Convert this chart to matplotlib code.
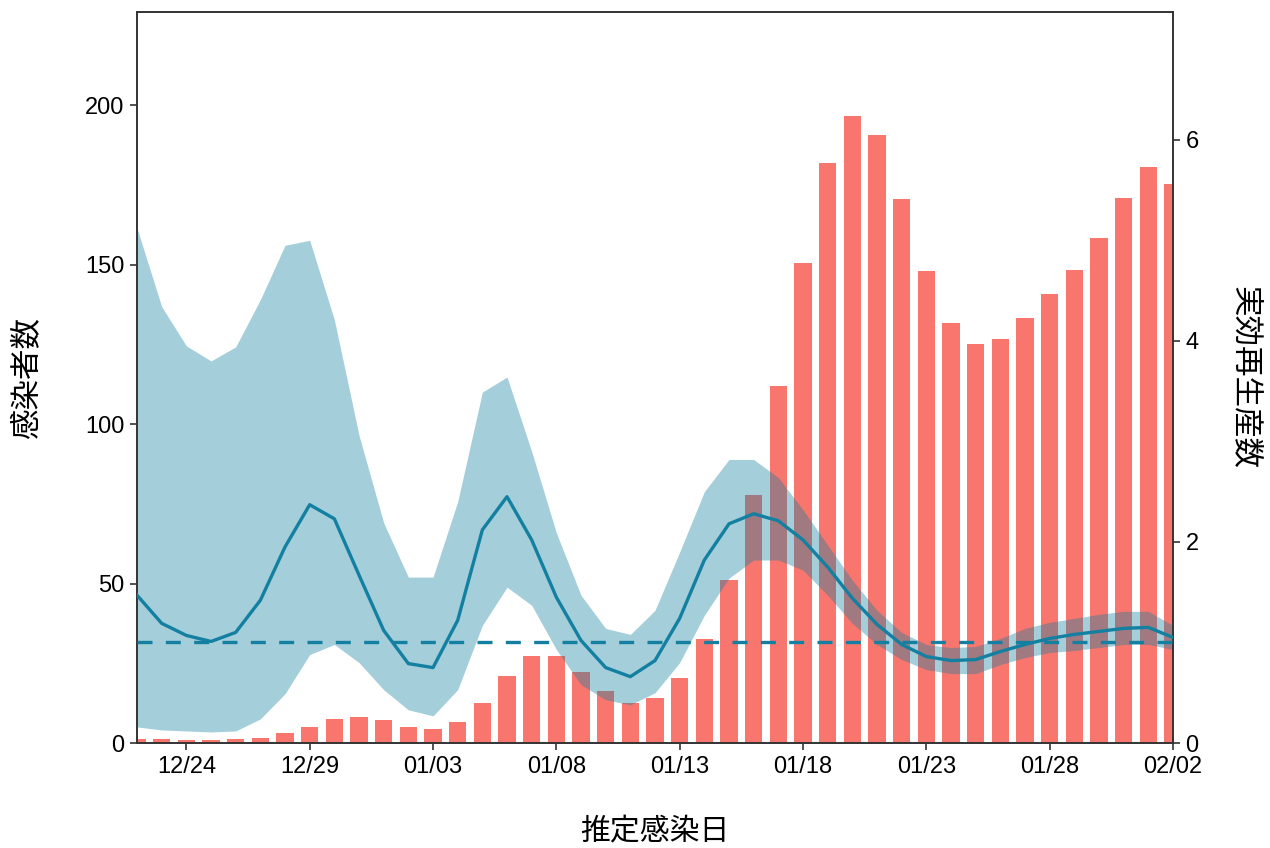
import matplotlib
matplotlib.use("Agg")
import matplotlib.pyplot as plt
import matplotlib.dates as mdates
import numpy as np
import pandas as pd

plt.rcParams['font.family'] = ['Liberation Sans', 'Noto Sans CJK JP', 'DejaVu Sans']

# Daily estimated infections, 2020-12-22 .. 2021-02-02
dates = pd.date_range("2020-12-22", "2021-02-02", freq="D")
infections = [1.3, 1.3, 1.0, 1.0, 1.3, 1.7, 3.1, 5.1, 7.4, 8.1,
              7.1, 4.9, 4.4, 6.7, 12.5, 21.0, 27.3, 27.3, 22.3, 16.3,
              12.5, 14.1, 20.4, 32.6, 51.0, 77.7, 112.0, 150.5, 182.0, 196.6,
              190.6, 170.5, 148.0, 131.7, 125.0, 126.6, 133.2, 140.8, 148.3, 158.3,
              170.8, 180.6, 175.2]

# Effective reproduction number: median and credible interval
rt_median = [1.47, 1.19, 1.07, 1.01, 1.10, 1.42, 1.95, 2.37, 2.23, 1.67,
             1.12, 0.79, 0.75, 1.22, 2.12, 2.45, 2.02, 1.45, 1.02, 0.75,
             0.66, 0.82, 1.24, 1.82, 2.18, 2.28, 2.21, 2.02, 1.75, 1.44,
             1.18, 0.98, 0.86, 0.82, 0.83, 0.91, 0.98, 1.04, 1.08, 1.11,
             1.14, 1.15, 1.05]
rt_upper = [5.12, 4.34, 3.95, 3.80, 3.94, 4.41, 4.95, 5.00, 4.21, 3.06,
            2.19, 1.65, 1.65, 2.40, 3.49, 3.64, 2.90, 2.09, 1.47, 1.14,
            1.08, 1.32, 1.90, 2.50, 2.82, 2.82, 2.64, 2.32, 1.97, 1.62,
            1.32, 1.10, 0.98, 0.95, 0.96, 1.04, 1.14, 1.20, 1.24, 1.28,
            1.31, 1.31, 1.17]
rt_lower = [0.16, 0.13, 0.12, 0.11, 0.12, 0.24, 0.49, 0.88, 0.98, 0.80,
            0.53, 0.33, 0.27, 0.53, 1.17, 1.55, 1.37, 0.93, 0.58, 0.43,
            0.38, 0.50, 0.80, 1.27, 1.64, 1.82, 1.82, 1.72, 1.47, 1.19,
            0.98, 0.83, 0.73, 0.69, 0.69, 0.78, 0.85, 0.90, 0.92, 0.95,
            0.98, 0.98, 0.93]
rt_threshold = 1.0

bar_color = "#F8766D"
rt_color = "#1380A1"
spine_color = "#333333"

fig = plt.figure(figsize=(12.7, 8.48), dpi=100)
ax = fig.add_axes([0.1079, 0.1238, 0.8157, 0.862])
ax2 = ax.twinx()

ax.bar(dates, infections, width=0.7, color=bar_color, zorder=2)

ax2.fill_between(dates, rt_lower, rt_upper, color=rt_color, alpha=0.38,
                 linewidth=0, zorder=1)
ax2.plot(dates, rt_median, color=rt_color, linewidth=2.4, zorder=3)
ax2.axhline(rt_threshold, color=rt_color, linewidth=2.4,
            dashes=(4.5, 4.0), zorder=3)

ax.set_xlim(dates[0], dates[-1])
ax.set_ylim(0, 229.2)
ax2.set_ylim(0, 7.27)

ax.set_yticks([0, 50, 100, 150, 200])
ax2.set_yticks([0, 2, 4, 6])
ticks = pd.date_range("2020-12-24", "2021-02-02", freq="5D")
ax.set_xticks(ticks)
ax.xaxis.set_major_formatter(mdates.DateFormatter("%m/%d"))

for a in (ax, ax2):
    for s in a.spines.values():
        s.set_color(spine_color)
        s.set_linewidth(1.2)
    a.tick_params(axis="both", direction="out", length=5, width=1.2,
                  color=spine_color, labelsize=17, labelcolor="black", pad=4)

cjk = ['Noto Sans CJK JP', 'DejaVu Sans']
ax.set_xlabel("推定感染日", fontsize=21.5, labelpad=28, family=cjk)
ax.set_ylabel("感染者数", fontsize=22, labelpad=30, family=cjk)
ax2.set_ylabel("実効再生産数", fontsize=22, labelpad=22, rotation=270,
               va="bottom", family=cjk)

fig.savefig("out.png", dpi=100)
